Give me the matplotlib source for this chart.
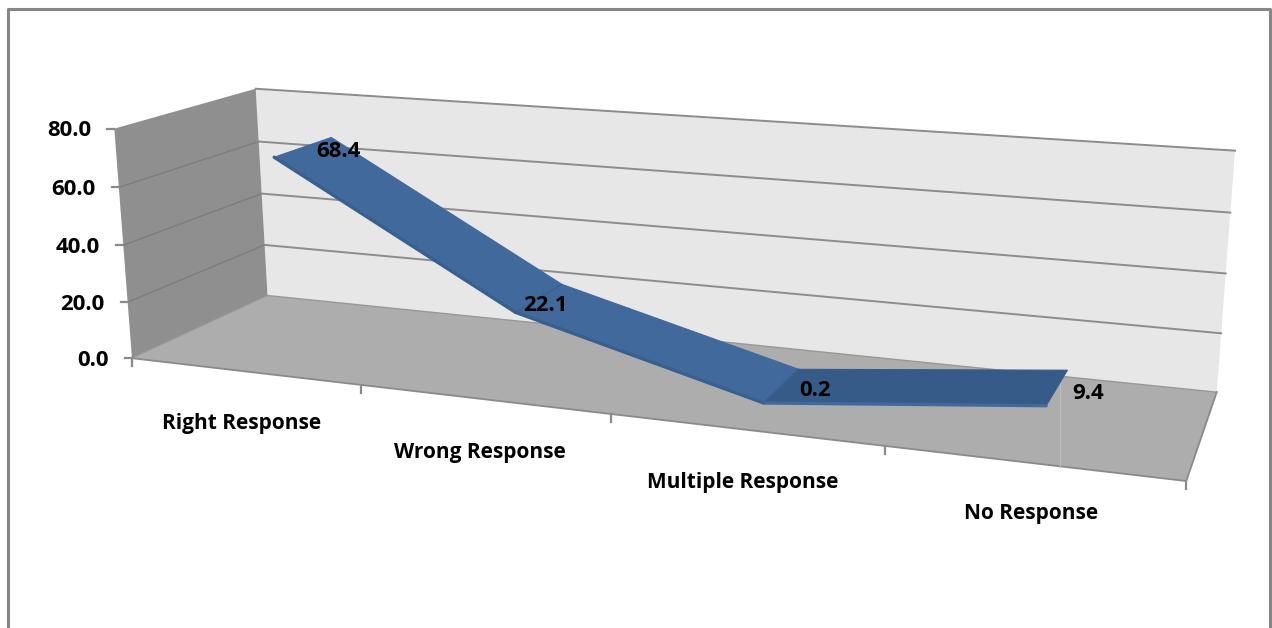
import numpy as np
import matplotlib
matplotlib.use('Agg')
import matplotlib.pyplot as plt
from matplotlib.patches import Polygon

# Chart values
categories = ['Right Response', 'Wrong Response', 'Multiple Response', 'No Response']
values = [68.4, 22.1, 0.2, 9.4]
value_ticks = [0, 20, 40, 60, 80]

WIDTH, HEIGHT = 1272, 628
VMAX = 80.0
XMAX = float(len(categories))

# ribbon sits between these depths (0 = front, 1 = back wall)
RIBBON_FRONT = 0.30
RIBBON_BACK = 0.74

# Corners of the 3D box on the canvas: (x, value, depth) -> pixel
box_corners = [
    ((0, 0, 0), (132.5, 358)),
    ((0, VMAX, 0), (114, 128)),
    ((0, 0, 1), (267, 296)),
    ((0, VMAX, 1), (256, 89)),
    ((XMAX, 0, 1), (1217, 391)),
    ((XMAX, VMAX, 1), (1235, 151)),
    ((XMAX, 0, 0), (1186, 482)),
]


def fit_camera(corners):
    '''least squares projective camera from the box corners'''
    rows = []
    for (x, v, z), (px, py) in corners:
        p = [x / XMAX, v / VMAX, z, 1]
        rows.append(p + [0, 0, 0, 0] + [-px * c for c in p])
        rows.append([0, 0, 0, 0] + p + [-py * c for c in p])
    _, _, vh = np.linalg.svd(np.array(rows, dtype=float))
    return vh[-1].reshape(3, 4)


camera = fit_camera(box_corners)


def project(x, v, z):
    h = camera @ np.array([x / XMAX, v / VMAX, z, 1.0])
    return h[0] / h[2], h[1] / h[2]


fig = plt.figure(figsize=(WIDTH / 100, HEIGHT / 100), dpi=100)
ax = fig.add_axes([0, 0, 1, 1])
ax.set_xlim(0, WIDTH)
ax.set_ylim(HEIGHT, 0)
ax.axis('off')

FONT = 'Open Sans'
LABEL_SIZE = 15.0
NUMBER_SIZE = 16.0
EDGE = '#8a8a8a'

# outer chart border, runs off the bottom
ax.plot([8, 8, 1270, 1270], [HEIGHT + 5, 9, 9, HEIGHT + 5], color='#868686', lw=2.2, zorder=1)

# Walls and floor
left_wall = [project(0, 0, 0), project(0, VMAX, 0), project(0, VMAX, 1), project(0, 0, 1)]
back_wall = [project(0, 0, 1), project(0, VMAX, 1), project(XMAX, VMAX, 1), project(XMAX, 0, 1)]
floor = [project(0, 0, 0), project(0, 0, 1), project(XMAX, 0, 1), project(XMAX, 0, 0)]
ax.add_patch(Polygon(back_wall, closed=True, fc='#e7e7e7', ec='none', zorder=2))
ax.add_patch(Polygon(left_wall, closed=True, fc='#8f8f8f', ec='none', zorder=2))
ax.add_patch(Polygon(floor, closed=True, fc='#adadad', ec='none', zorder=2))

# Gridlines, the top one only runs along the back wall
for v in value_ticks[1:]:
    a, b, c = project(0, v, 0), project(0, v, 1), project(XMAX, v, 1)
    if v < VMAX:
        ax.plot([a[0], b[0]], [a[1], b[1]], color='#7d7d7d', lw=1.0, zorder=3)
    ax.plot([b[0], c[0]], [b[1], c[1]], color='#8c8c8c', lw=1.4, zorder=3)

# Edges of the floor
a, b, c, d = floor
ax.plot([b[0], c[0]], [b[1], c[1]], color='#989898', lw=1.0, zorder=3)
ax.plot([a[0], b[0]], [a[1], b[1]], color='#9a9a9a', lw=0.8, zorder=3)
ax.plot([c[0], d[0], a[0]], [c[1], d[1], a[1]], color=EDGE, lw=1.3, zorder=3)

# seam in the floor near the right side
seam = [project(3.61, 0, 0.0), project(3.61, 0, 0.98)]
ax.plot([1060, 1060], [seam[1][1], seam[0][1]], color='#bdbdbd', lw=0.8, zorder=3)

# Value axis ticks and labels
for v in value_ticks:
    px, py = project(0, v, 0)
    ax.plot([px - 7, px], [py, py], color=EDGE, lw=1.6, zorder=3)
    ax.text(px - 23, py + 2, f'{v:.1f}', ha='right', va='center', family=FONT,
            fontweight='bold', fontsize=NUMBER_SIZE, color='black', zorder=6)

# Category ticks and labels
for i in range(len(categories) + 1):
    px, py = project(i, 0, 0)
    ax.plot([px, px], [py, py + 8], color=EDGE, lw=1.6, zorder=3)
category_nudge = [(-2, 52), (-3, 53), (-2, 53), (-1, 50)]
for i, name in enumerate(categories):
    px, py = project(i + 0.5, 0, 0)
    ax.text(px + category_nudge[i][0], py + category_nudge[i][1], name, ha='center', va='center',
            family=FONT, fontweight='bold', fontsize=LABEL_SIZE, color='black', zorder=6)

# Ribbon of the 3D line
x_pos = [0.5, 1.5, 2.475, 3.49]
seg_colors = ['#41699c', '#41699c', '#375b89']
lip_colors = ['#38608f', '#38608f', '#41699c']
for i in range(len(values) - 1):
    quad = [project(x_pos[i], values[i], RIBBON_FRONT),
            project(x_pos[i + 1], values[i + 1], RIBBON_FRONT),
            project(x_pos[i + 1], values[i + 1], RIBBON_BACK),
            project(x_pos[i], values[i], RIBBON_BACK)]
    ax.add_patch(Polygon(quad, closed=True, fc=seg_colors[i], ec=seg_colors[i], lw=0.8,
                         joinstyle='round', zorder=4))
    ax.plot([quad[0][0], quad[1][0]], [quad[0][1], quad[1][1]], color=lip_colors[i], lw=2.4,
            solid_capstyle='round', zorder=5)
for i in range(1, len(values) - 1):
    a, b = project(x_pos[i], values[i], RIBBON_FRONT), project(x_pos[i], values[i], RIBBON_BACK)
    ax.plot([a[0], b[0]], [a[1], b[1]], color='#38608f', lw=1.0, zorder=5)

# Data labels, nudged off the middle of the ribbon
label_nudge = [(35, 4), (6, 7), (33, 5), (31, 6)]
for i, val in enumerate(values):
    px, py = project(x_pos[i], val, (RIBBON_FRONT + RIBBON_BACK) / 2)
    ax.text(px + label_nudge[i][0], py + label_nudge[i][1], f'{val:.1f}', ha='center', va='center',
            family=FONT, fontweight='bold', fontsize=NUMBER_SIZE, color='black', zorder=6)

fig.savefig('out.png', dpi=100)
